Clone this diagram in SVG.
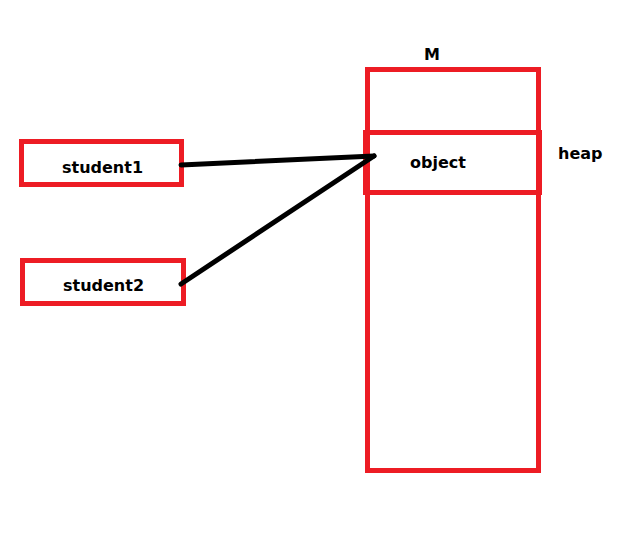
<svg xmlns="http://www.w3.org/2000/svg" width="627" height="533" viewBox="0 0 627 533">
<style>
.box{fill:none;stroke:#ED1C24;stroke-width:5}
.t{font-family:"DejaVu Sans",sans-serif;font-weight:bold;font-size:16px;fill:#000}
.c{stroke:#000;stroke-width:5;stroke-linecap:round;fill:none}
</style>
<rect width="627" height="533" fill="#fff"/>
<g id="heap">
<rect class="box" x="367.5" y="69.5" width="171" height="401"/>
<text class="t" x="432" y="60" text-anchor="middle">M</text>
<text class="t" x="558" y="159">heap</text>
</g>
<g id="object">
<rect class="box" x="365.5" y="132.5" width="174" height="60"/>
<text class="t" x="438" y="168" text-anchor="middle">object</text>
</g>
<g id="student1">
<rect class="box" x="21.5" y="141.5" width="160" height="43"/>
<text class="t" x="102.5" y="173" text-anchor="middle">student1</text>
</g>
<g id="student2">
<rect class="box" x="22.5" y="260.5" width="161" height="43"/>
<text class="t" x="103.5" y="291" text-anchor="middle">student2</text>
</g>
<g id="connectors">
<line class="c" x1="181" y1="165" x2="374" y2="156"/>
<line class="c" x1="181" y1="284" x2="374" y2="156"/>
</g>
</svg>
